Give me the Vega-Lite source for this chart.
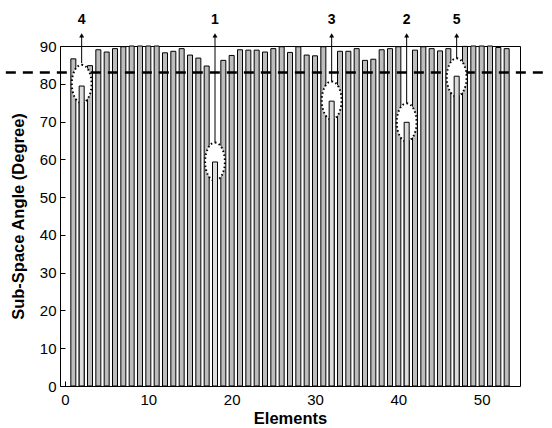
{
  "$schema": "https://vega.github.io/schema/vega-lite/v6.json",
  "width": 460,
  "height": 340,
  "autosize": {"type": "none"},
  "padding": {"left": 60, "top": 46, "right": 32, "bottom": 42},
  "background": "white",
  "config": {
    "view": {"stroke": "black", "strokeWidth": 1},
    "font": "Liberation Sans"
  },
  "datasets": {
    "bars": [
      {"x": 1, "y": 86.6}, {"x": 2, "y": 79.4}, {"x": 3, "y": 84.8}, {"x": 4, "y": 89.0},
      {"x": 5, "y": 88.4}, {"x": 6, "y": 89.3}, {"x": 7, "y": 89.8}, {"x": 8, "y": 90},
      {"x": 9, "y": 90}, {"x": 10, "y": 90}, {"x": 11, "y": 90}, {"x": 12, "y": 88.2},
      {"x": 13, "y": 88.6}, {"x": 14, "y": 89.3}, {"x": 15, "y": 87.6}, {"x": 16, "y": 86.8},
      {"x": 17, "y": 84.7}, {"x": 18, "y": 59.3}, {"x": 19, "y": 86.2}, {"x": 20, "y": 87.5},
      {"x": 21, "y": 89.0}, {"x": 22, "y": 88.9}, {"x": 23, "y": 88.9}, {"x": 24, "y": 88.4},
      {"x": 25, "y": 89.3}, {"x": 26, "y": 89.8}, {"x": 27, "y": 88.3}, {"x": 28, "y": 89.8},
      {"x": 29, "y": 87.6}, {"x": 30, "y": 87.4}, {"x": 31, "y": 89.8}, {"x": 32, "y": 75.4},
      {"x": 33, "y": 88.6}, {"x": 34, "y": 88.6}, {"x": 35, "y": 89.3}, {"x": 36, "y": 86.2},
      {"x": 37, "y": 86.5}, {"x": 38, "y": 89.0}, {"x": 39, "y": 89.3}, {"x": 40, "y": 89.8},
      {"x": 41, "y": 69.8}, {"x": 42, "y": 88.9}, {"x": 43, "y": 89.8}, {"x": 44, "y": 89.3},
      {"x": 45, "y": 88.7}, {"x": 46, "y": 89.3}, {"x": 47, "y": 82.0}, {"x": 48, "y": 89.9},
      {"x": 49, "y": 90}, {"x": 50, "y": 90}, {"x": 51, "y": 90}, {"x": 52, "y": 89.6},
      {"x": 53, "y": 89.3}
    ],
    "ellipses": [
      {"x": 2, "y": 80.0}, {"x": 18, "y": 59.4}, {"x": 32, "y": 75.6}, {"x": 41, "y": 69.8}, {"x": 47, "y": 81.7}
    ],
    "arrows": [
      {"x": 2, "y": 85.5, "y2": 92.8}, {"x": 18, "y": 64.5, "y2": 92.8}, {"x": 32, "y": 80.7, "y2": 92.8},
      {"x": 41, "y": 74.9, "y2": 92.8}, {"x": 47, "y": 86.8, "y2": 92.8}
    ],
    "heads": [
      {"x": 2, "y": 92.8}, {"x": 18, "y": 92.8}, {"x": 32, "y": 92.8}, {"x": 41, "y": 92.8}, {"x": 47, "y": 92.8}
    ],
    "labels": [
      {"x": 2, "y": 96.8, "label": "4"}, {"x": 18, "y": 96.8, "label": "1"}, {"x": 32, "y": 96.8, "label": "3"},
      {"x": 41, "y": 96.8, "label": "2"}, {"x": 47, "y": 96.8, "label": "5"}
    ],
    "threshold": [{"x": -7.1, "x2": 57.8, "y": 83}]
  },
  "encoding": {
    "x": {"field": "x", "type": "quantitative", "scale": {"domain": [0, 54], "nice": false, "zero": false},
          "axis": {"values": [0, 10, 20, 30, 40, 50], "title": "Elements", "grid": false, "domain": false,
                   "tickColor": "black", "tickSize": -5, "labelColor": "black", "labelFontSize": 15, "labelFont": "Liberation Sans",
                   "labelOverlap": false, "labelPadding": 11, "titlePadding": 3, "titleFontSize": 16.5, "titleFontWeight": "bold", "titleFont": "Liberation Sans", "titleColor": "black"}},
    "y": {"field": "y", "type": "quantitative", "scale": {"domain": [0, 90], "nice": false},
          "axis": {"values": [0, 10, 20, 30, 40, 50, 60, 70, 80, 90], "title": "Sub-Space Angle (Degree)", "grid": false, "domain": false,
                   "tickColor": "black", "tickSize": -5, "labelColor": "black", "labelFontSize": 15, "labelFont": "Liberation Sans",
                   "labelOverlap": false, "labelFlush": false, "labelPadding": 9, "titlePadding": 13, "titleFontSize": 16.5, "titleFontWeight": "bold", "titleFont": "Liberation Sans", "titleColor": "black"}}
  },
  "layer": [
    {
      "data": {"name": "bars"},
      "mark": {"type": "bar", "size": 5, "fill": "#bdbdbd", "stroke": "black", "strokeWidth": 1}
    },
    {
      "data": {"name": "threshold"},
      "mark": {"type": "rule", "stroke": "black", "strokeWidth": 2.5, "strokeDash": [10, 7], "clip": false},
      "encoding": {
        "x2": {"field": "x2"}
      }
    },
    {
      "data": {"name": "ellipses"},
      "mark": {"type": "point", "shape": "M0,-1 A0.52,1 0 1,1 0,1 A0.52,1 0 1,1 0,-1 Z", "size": 1444, "filled": true, "fill": "white", "fillOpacity": 1, "stroke": "black", "strokeWidth": 2, "strokeDash": [1.5, 2.5], "opacity": 1}
    },
    {
      "data": {"name": "bars"},
      "transform": [{"filter": "datum.x == 2 || datum.x == 18 || datum.x == 32 || datum.x == 41 || datum.x == 47"}],
      "mark": {"type": "bar", "size": 5, "fill": "#dcdcdc", "stroke": "black", "strokeWidth": 1}
    },
    {
      "data": {"name": "arrows"},
      "mark": {"type": "rule", "stroke": "black", "strokeWidth": 1, "clip": false},
      "encoding": {
        "y2": {"field": "y2"}
      }
    },
    {
      "data": {"name": "heads"},
      "mark": {"type": "point", "shape": "triangle-up", "size": 25, "filled": true, "fill": "black", "opacity": 1, "clip": false}
    },
    {
      "data": {"name": "labels"},
      "mark": {"type": "text", "font": "Liberation Sans", "fontSize": 14, "fontWeight": "bold", "color": "black", "baseline": "middle", "align": "center", "clip": false},
      "encoding": {
        "text": {"field": "label"}
      }
    }
  ]
}
